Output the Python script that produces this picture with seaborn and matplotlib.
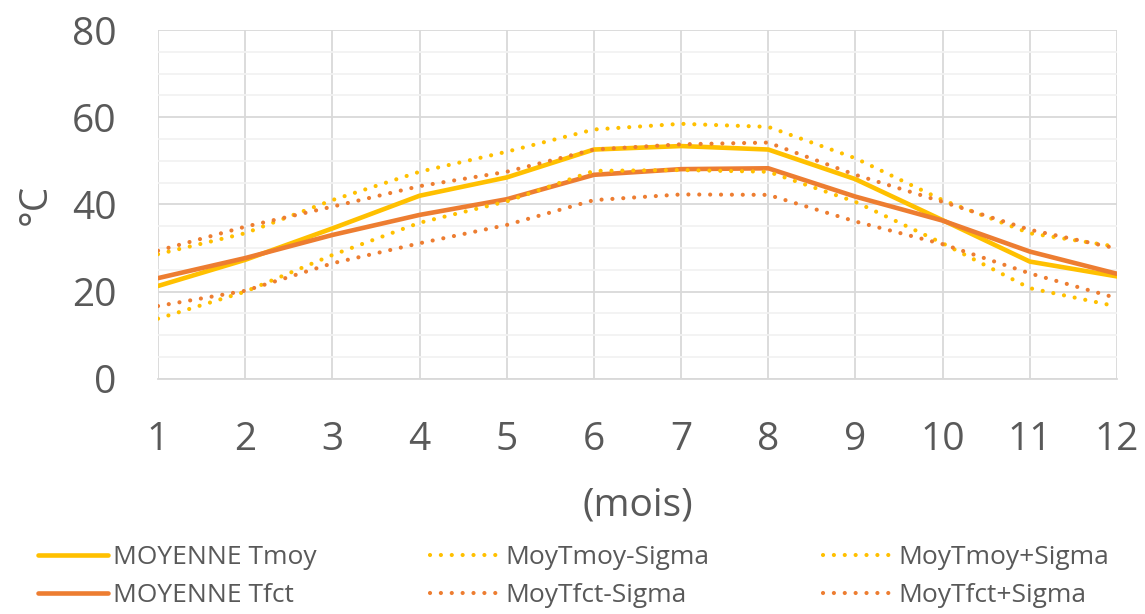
import numpy as np
import pandas as pd
import matplotlib
matplotlib.use("Agg")
import matplotlib.pyplot as plt
import seaborn as sns
from matplotlib.ticker import MultipleLocator

# Monthly temperature data (°C)
mois = [1, 2, 3, 4, 5, 6, 7, 8, 9, 10, 11, 12]
moyenne_tmoy = [21.3, 27.3, 34.5, 42.0, 46.2, 52.6, 53.4, 52.6, 45.8, 36.4, 26.9, 23.5]
moyenne_tfct = [23.1, 27.7, 33.0, 37.6, 41.2, 46.8, 48.1, 48.3, 41.8, 36.3, 29.2, 24.1]
tmoy_moins = [13.8, 20.0, 28.4, 35.8, 40.7, 47.7, 47.9, 47.5, 40.6, 31.1, 20.8, 16.6]
tmoy_plus = [28.6, 33.4, 41.0, 47.5, 52.1, 57.2, 58.5, 57.8, 50.6, 41.0, 33.4, 30.3]
tfct_moins = [16.7, 20.2, 26.5, 31.1, 35.3, 41.0, 42.3, 42.2, 36.1, 30.9, 24.2, 18.5]
tfct_plus = [29.4, 34.9, 39.5, 44.2, 47.5, 52.6, 53.8, 54.2, 46.8, 40.6, 34.2, 29.9]

JAUNE = "#FFC000"
ORANGE = "#ED7D31"

sns.set_theme(style="white")
plt.rcParams["font.family"] = ["Open Sans", "DejaVu Sans"]

fig = plt.figure(figsize=(11.45, 6.14), dpi=100)
ax = fig.add_axes([0.138, 0.383, 0.8375, 0.568])

# order chosen so that the 3-column legend reads row by row like the original
series = [
    ("MOYENNE Tmoy", moyenne_tmoy, JAUNE, "solid"),
    ("MOYENNE Tfct", moyenne_tfct, ORANGE, "solid"),
    ("MoyTmoy-Sigma", tmoy_moins, JAUNE, "dot"),
    ("MoyTfct-Sigma", tfct_moins, ORANGE, "dot"),
    ("MoyTmoy+Sigma", tmoy_plus, JAUNE, "dot"),
    ("MoyTfct+Sigma", tfct_plus, ORANGE, "dot"),
]

for label, vals, col, style in series:
    df = pd.DataFrame({"mois": mois, "temp": vals})
    if style == "solid":
        sns.lineplot(data=df, x="mois", y="temp", ax=ax, color=col, lw=3.3,
                     label=label, zorder=3)
    else:
        sns.lineplot(data=df, x="mois", y="temp", ax=ax, color=col, lw=3.0,
                     label=label, zorder=3)
        ln = ax.lines[-1]
        ln.set_linestyle((0, (0.01, 2.6)))
        ln.set_dash_capstyle("round")

ax.set_xlim(1, 12)
ax.set_ylim(0, 80)
ax.set_xticks(mois)
ax.yaxis.set_major_locator(MultipleLocator(20))
ax.yaxis.set_minor_locator(MultipleLocator(5))

ax.grid(which="major", axis="both", color="#D9D9D9", lw=1.3)
ax.grid(which="minor", axis="y", color="#F2F2F2", lw=1.3)
ax.set_axisbelow(True)

for s in ["top", "right", "left"]:
    ax.spines[s].set_visible(False)
ax.spines["bottom"].set_color("#D9D9D9")
ax.spines["bottom"].set_linewidth(1.3)

ax.tick_params(axis="both", which="both", length=0, labelsize=28, labelcolor="#595959")
ax.tick_params(axis="x", pad=30)
ax.tick_params(axis="y", pad=30)

ax.set_xlabel("(mois)", fontsize=28, color="#595959", labelpad=20)
ax.set_ylabel("°C", fontsize=28, color="#595959", labelpad=12)

handles, labels = ax.get_legend_handles_labels()
ax.get_legend().remove()
leg = fig.legend(handles, labels, ncol=3, loc="upper left", bbox_to_anchor=(0.033, 0.112),
                 frameon=False, fontsize=19, labelcolor="#595959", handlelength=2.65,
                 handletextpad=0.2, columnspacing=4.3, labelspacing=0.5,
                 borderpad=0, borderaxespad=0)
for h in leg.get_lines():
    if h.get_linestyle() != "-":
        h.set_dash_capstyle("round")

fig.savefig("out.png", dpi=100, facecolor="white")
